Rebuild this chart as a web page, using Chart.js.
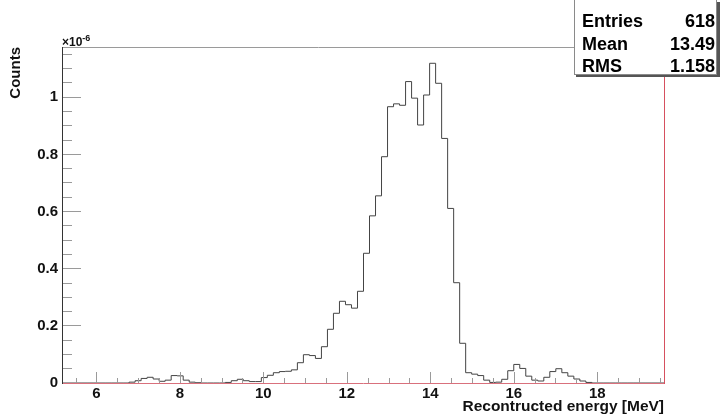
<!DOCTYPE html>
<html>
<head>
<meta charset="utf-8">
<script src="https://cdn.jsdelivr.net/npm/chart.js@4/dist/chart.umd.min.js"></script>
<style>
html,body{margin:0;padding:0;background:#fff;}
canvas{display:block;}
</style>
</head>
<body>
<canvas id="c" width="720" height="416"></canvas>
<script>
// ---- data (counts in units of 1e-6) ----
const xMin = 5.2;
const xMax = 19.6;
const nBins = 100;
const counts = [
  0,0,0,0,0,0,0,0,0,0,
  0,0,0.003,0.008,0.016,0.020,0.014,0.006,0.010,0.026,
  0.025,0.010,0.003,0.001,0,0,0,0,0.002,0.008,
  0.013,0.008,0.005,0.005,0.019,0.027,0.036,0.040,0.041,0.046,
  0.071,0.099,0.096,0.086,0.127,0.188,0.244,0.286,0.274,0.262,
  0.321,0.454,0.585,0.655,0.792,0.967,0.977,0.972,1.055,0.997,
  0.903,1.008,1.119,1.049,0.856,0.611,0.351,0.139,0.036,0.031,
  0.026,0.010,0.002,0.003,0.013,0.043,0.065,0.051,0.024,0.010,
  0.007,0.020,0.040,0.050,0.036,0.024,0.014,0.007,0.002,0,
  0,0,0,0,0,0,0,0,0,0
];
const yMax = 1.176;
const xTickValues = [6, 8, 10, 12, 14, 16, 18];
const xTickLabels = ['6', '8', '10', '12', '14', '16', '18'];
const yTickValues = [0, 0.2, 0.4, 0.6, 0.8, 1.0];
const yTickLabels = ['0', '0.2', '0.4', '0.6', '0.8', '1'];
const statLabels = ['Entries', 'Mean', 'RMS'];
const statValues = ['618', '13.49', '1.158'];
const xTitle = 'Recontructed energy [MeV]';
const yTitle = 'Counts';

// ---- build step points from bins ----
const binW = (xMax - xMin) / nBins;
const points = counts.map((c, i) => ({x: xMin + i * binW, y: c}));
points.push({x: xMax, y: counts[counts.length - 1]});

const FONT = '"Liberation Sans", Arial, Helvetica, sans-serif';

const decor = {
  id: 'decor',
  afterDatasetsDraw(chart) {
    const ctx = chart.ctx;
    const a = chart.chartArea;
    const xs = chart.scales.x, ys = chart.scales.y;
    const base = Math.round(a.bottom); // pixel row of the baseline
    ctx.save();
    ctx.lineWidth = 1;
    // y minor/major ticks
    ctx.strokeStyle = '#9a9a9a';
    for (let k = 0; k * 0.05 <= yMax + 1e-9; k++) {
      const v = k * 0.05;
      const py = Math.floor(ys.getPixelForValue(v)) + 0.5;
      const major = (k % 4 === 0);
      const len = major ? 18 : 9;
      ctx.beginPath();
      ctx.moveTo(63, py);
      ctx.lineTo(63 + len, py);
      ctx.stroke();
    }
    // x minor/major ticks
    for (let k = 11; k * 0.5 <= xMax; k++) {
      const v = k * 0.5;
      const px = Math.round(xs.getPixelForValue(v)) + 0.5;
      const major = (k % 4 === 0);
      const len = major ? 11 : 5;
      ctx.beginPath();
      ctx.moveTo(px, base);
      ctx.lineTo(px, base - len);
      ctx.stroke();
    }
    // top frame line
    ctx.strokeStyle = '#9a9a9a';
    ctx.beginPath();
    ctx.moveTo(62, 47.5);
    ctx.lineTo(575, 47.5);
    ctx.stroke();
    // left axis
    ctx.strokeStyle = '#333';
    ctx.beginPath();
    ctx.moveTo(62.5, 47);
    ctx.lineTo(62.5, base + 1);
    ctx.stroke();
    // bottom (red) line
    ctx.strokeStyle = '#d9707c';
    ctx.beginPath();
    ctx.moveTo(63, base + 0.5);
    ctx.lineTo(a.right, base + 0.5);
    ctx.stroke();
    // right (red) line
    ctx.strokeStyle = '#d6505f';
    ctx.beginPath();
    ctx.moveTo(a.right + 0.5, 75);
    ctx.lineTo(a.right + 0.5, base + 1);
    ctx.stroke();
    // x10^-6
    ctx.fillStyle = '#111';
    ctx.textAlign = 'left';
    ctx.textBaseline = 'alphabetic';
    ctx.font = 'bold 12px ' + FONT;
    ctx.fillText('\u00d710', 62, 46);
    const w = ctx.measureText('\u00d710').width;
    ctx.font = 'bold 9px ' + FONT;
    ctx.fillText('-6', 62 + w, 40.5);
    // stats box
    ctx.fillStyle = '#555';
    ctx.fillRect(576, 2, 144, 75);
    ctx.fillStyle = '#fff';
    ctx.fillRect(574, 0, 143, 75);
    ctx.strokeStyle = '#8a8a8a';
    ctx.strokeRect(574.5, -0.5, 142, 75);
    ctx.fillStyle = '#000';
    ctx.font = 'bold 18px ' + FONT;
    const rowY = [27, 49.5, 72];
    for (let i = 0; i < statLabels.length; i++) {
      ctx.textAlign = 'left';
      ctx.fillText(statLabels[i], 582, rowY[i]);
      ctx.textAlign = 'right';
      ctx.fillText(statValues[i], 715, rowY[i]);
    }
    ctx.restore();
  }
};

new Chart(document.getElementById('c'), {
  type: 'line',
  data: {
    datasets: [{
      data: points,
      stepped: 'after',
      borderColor: '#444',
      borderWidth: 1,
      pointRadius: 0,
      fill: false,
      tension: 0
    }]
  },
  options: {
    responsive: false,
    animation: false,
    devicePixelRatio: 1,
    layout: {padding: {left: 0, right: 56, top: 47, bottom: 0}},
    plugins: {legend: {display: false}, tooltip: {enabled: false}},
    scales: {
      x: {
        type: 'linear',
        min: xMin,
        max: xMax,
        afterBuildTicks: s => { s.ticks = xTickValues.map(v => ({value: v})); },
        afterFit: s => { s.height = 33; },
        grid: {display: false, drawTicks: false},
        border: {display: false},
        ticks: {
          autoSkip: false, maxRotation: 0, padding: 2,
          color: '#111',
          font: {family: FONT, size: 15, weight: 'bold'},
          callback: (v) => { const i = xTickValues.indexOf(v); return i >= 0 ? xTickLabels[i] : ''; }
        },
        title: {
          display: true, text: xTitle, align: 'end', color: '#111',
          font: {family: FONT, size: 15.5, weight: 'bold'},
          padding: {top: 0, bottom: -0.5}
        }
      },
      y: {
        type: 'linear',
        min: 0,
        max: yMax,
        afterBuildTicks: s => { s.ticks = yTickValues.map(v => ({value: v})); },
        afterFit: s => { s.width = 63; },
        grid: {display: false, drawTicks: false},
        border: {display: false},
        ticks: {
          autoSkip: false, padding: 5,
          color: '#111',
          font: {family: FONT, size: 15, weight: 'bold'},
          callback: (v) => { const i = yTickValues.findIndex(t => Math.abs(t - v) < 1e-9); return i >= 0 ? yTickLabels[i] : ''; }
        },
        title: {
          display: true, text: yTitle, align: 'end', color: '#111',
          font: {family: FONT, size: 15, weight: 'bold'},
          padding: {top: 7, bottom: 0}
        }
      }
    }
  },
  plugins: [decor]
});
</script>
</body>
</html>
